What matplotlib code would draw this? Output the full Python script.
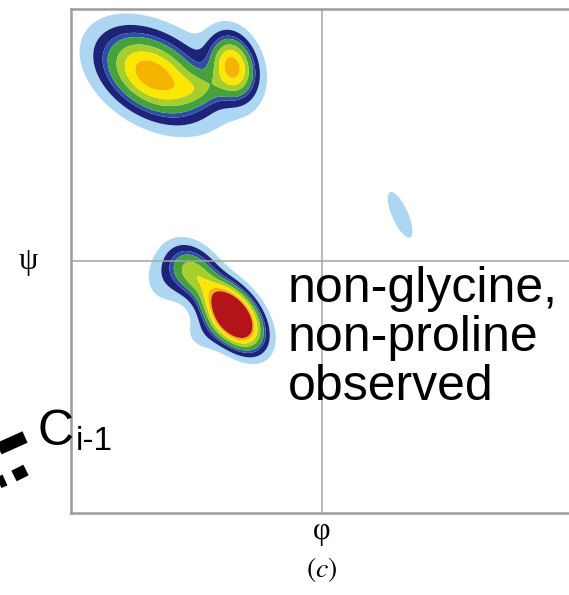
import matplotlib
matplotlib.use("Agg")
import matplotlib.pyplot as plt
from matplotlib.lines import Line2D
import numpy as np

# density blobs (phi, psi in degrees)
blob_phi = [-122, -64, -88, -98, -64, -92, -112, -84, 56]
blob_psi = [133, 139, 123, 131, -39, -8, -12, -52, 33]
blob_amp = [0.48, 0.47, 0.12, 0.045, 1.0, 0.3, 0.07, 0.06, 0.1]
blob_sd_major = [25, 14.5, 12, 44, 16, 14, 14, 12, 14]
blob_sd_minor = [16, 10, 8, 27, 9.5, 10, 12, 10, 4.5]
blob_angle = [-33, -75, 0, -15, -52, -50, 80, 0, -66]

levels = [0.045, 0.1, 0.16, 0.2, 0.28, 0.36, 0.45, 0.52, 10]
colors = ['#acd6f2', '#1d2379', '#2e4fa8', '#45a23c', '#a6cf2c',
          '#fde600', '#f6b400', '#b3141a']

note = "non-glycine,\nnon-proline\nobserved"


def density(phi, psi):
    z = np.zeros_like(phi)
    for x0, y0, a, su, sv, ang in zip(blob_phi, blob_psi, blob_amp,
                                      blob_sd_major, blob_sd_minor, blob_angle):
        t = np.radians(ang)
        dx = phi - x0
        dy = psi - y0
        u = dx * np.cos(t) + dy * np.sin(t)
        v = -dx * np.sin(t) + dy * np.cos(t)
        z += a * np.exp(-(u ** 2 / (2 * su ** 2) + v ** 2 / (2 * sv ** 2)))
    return z


plt.rcParams['mathtext.fontset'] = 'stix'

W, H = 569, 595
fig = plt.figure(figsize=(W / 100, H / 100), dpi=100)
ax = fig.add_axes([71 / W, (H - 513) / H, 502 / W, 504 / H])

g = np.linspace(-180, 180, 500)
PHI, PSI = np.meshgrid(g, g)
Z = density(PHI, PSI)
ax.contourf(PHI, PSI, Z, levels=levels, colors=colors, antialiased=True)

ax.axhline(0, color='#a5a5a5', lw=1.1)
ax.axvline(0, color='#a5a5a5', lw=1.1)
ax.set_xlim(-180, 180)
ax.set_ylim(-180, 180)
ax.set_xticks([])
ax.set_yticks([])
for s in ax.spines.values():
    s.set_color('#9c9c9c')
    s.set_linewidth(1.8)

serif = ['Liberation Serif', 'DejaVu Serif']
fig.text(28 / W, 1 - 262 / H, 'ψ', family=serif, fontsize=22,
         ha='center', va='center')
fig.text(322 / W, 1 - 531 / H, 'φ', family=serif, fontsize=22,
         ha='center', va='center')
fig.text(322 / W, 1 - 570 / H, r'$(c)$', fontsize=20,
         ha='center', va='center')

fig.text(288 / W, 1 - 266 / H, note, family='Liberation Sans',
         fontsize=36, ha='left', va='top', linespacing=1.08)
fig.text(38 / W, 1 - 432 / H, 'C', family='Liberation Sans', fontsize=36,
         ha='left', va='center')
fig.text(76 / W, 1 - 442 / H, 'i-1', family='Liberation Sans', fontsize=24,
         ha='left', va='center')

# bond drawn as dashes at lower left
px = lambda xs, ys: ([x / W for x in xs], [1 - y / H for y in ys])
for xs, ys, lw in [([-15, 25], [455, 437], 9.0),
                   ([14, 26], [476, 470], 8.5),
                   ([-6, 5], [485, 480], 8.5)]:
    fx, fy = px(xs, ys)
    fig.add_artist(Line2D(fx, fy, transform=fig.transFigure, color='black',
                          lw=lw, solid_capstyle='butt'))

fig.savefig("out.png", dpi=100)
